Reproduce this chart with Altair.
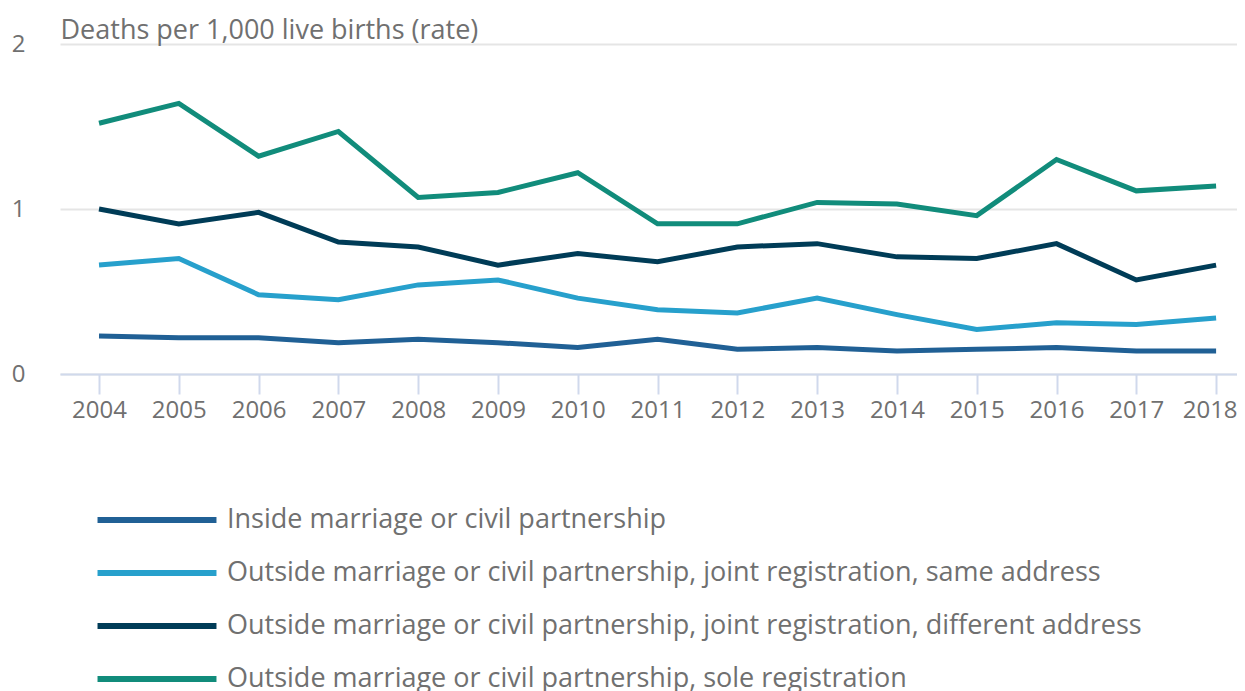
import altair as alt
import pandas as pd

years = list(range(2004, 2019))
series_names = [
    "Inside marriage or civil partnership",
    "Outside marriage or civil partnership, joint registration, same address",
    "Outside marriage or civil partnership, joint registration, different address",
    "Outside marriage or civil partnership, sole registration",
]
inside = [0.23, 0.22, 0.22, 0.19, 0.21, 0.19, 0.16, 0.21, 0.15, 0.16, 0.14, 0.15, 0.16, 0.14, 0.14]
same_address = [0.66, 0.70, 0.48, 0.45, 0.54, 0.57, 0.46, 0.39, 0.37, 0.46, 0.36, 0.27, 0.31, 0.30, 0.34]
different_address = [1.00, 0.91, 0.98, 0.80, 0.77, 0.66, 0.73, 0.68, 0.77, 0.79, 0.71, 0.70, 0.79, 0.57, 0.66]
sole = [1.52, 1.64, 1.32, 1.47, 1.07, 1.10, 1.22, 0.91, 0.91, 1.04, 1.03, 0.96, 1.30, 1.11, 1.14]
colors = ["#206095", "#27a0cc", "#003c57", "#118c7b"]

rows = []
for name, vals in zip(series_names, [inside, same_address, different_address, sole]):
    for y, v in zip(years, vals):
        rows.append({"year": y, "rate": v, "series": name})
df = pd.DataFrame(rows)

chart = alt.Chart(df).mark_line(strokeWidth=5, strokeJoin="miter", strokeCap="butt").encode(
    x=alt.X("year:Q",
            scale=alt.Scale(domain=[2003.511, 2018.262], nice=False, zero=False),
            axis=alt.Axis(values=years, format="d", title=None, grid=False,
                          domainColor="#d0d9ec", domainWidth=2,
                          tickColor="#d0d9ec", tickWidth=2, tickSize=20,
                          labelFontSize=24, labelColor="#707070", labelPadding=4,
                          labelFlush=30, labelFlushOffset=21, labelOverlap=False)),
    y=alt.Y("rate:Q",
            scale=alt.Scale(domain=[0, 2], nice=False),
            axis=alt.Axis(tickCount=2, labelOverlap=False,
                          title="Deaths per 1,000 live births (rate)",
                          titleAngle=0, titleAlign="left", titleX=0, titleY=-6,
                          titleBaseline="alphabetic", titleFontSize=27,
                          titleFontWeight="normal", titleColor="#707070",
                          domain=False, ticks=False, grid=True,
                          gridColor="#e5e5e5", gridWidth=2,
                          labelFontSize=24, labelColor="#707070", labelPadding=35)),
    color=alt.Color("series:N",
                    scale=alt.Scale(domain=series_names, range=colors),
                    legend=alt.Legend(title=None, orient="none", legendX=82, legendY=461,
                                      direction="vertical", symbolType="M-5,0H5",
                                      symbolSize=566, symbolStrokeWidth=6,
                                      labelFontSize=27, labelColor="#707070",
                                      labelLimit=2000, rowPadding=25, padding=0,
                                      labelOffset=55)),
).properties(
    width=1177, height=330,
    autosize=alt.AutoSizeParams(type="none"),
    padding={"left": 52, "top": 36, "right": 0, "bottom": 317},
).configure(
    font="Open Sans",
).configure_view(stroke=None)

chart.save("out.html", embed_options={"renderer": "svg", "actions": False})
